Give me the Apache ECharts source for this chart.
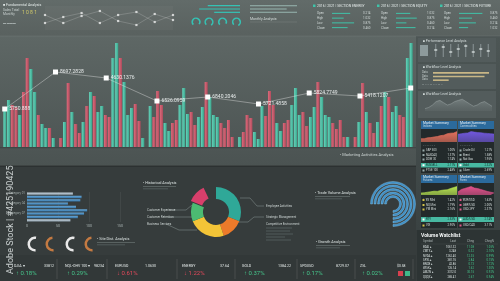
<!DOCTYPE html>
<html><head><meta charset="utf-8">
<script src="https://cdn.jsdelivr.net/npm/echarts/dist/echarts.min.js"></script>
<style>html,body{margin:0;padding:0;background:#363c3c;}#c{width:500px;height:281px;}</style>
</head><body><div id="c"></div>
<script>
// ---------- DATA ----------
const barValues=[40,47,42,40,32,55,89,78,55,32, 23,19,19,9,0,9,25,64,35,23, 14,25,41,55,51,35,41,32,30,89,
 104,89,65,32,39,43,26,9,0,41, 30,56,42,24,16,24,27,42,59,33, 35,22,30,40,65,50,32,30,24,19,
 27,10,0,10,15,32,29,15,8,41, 31,56,42,24,16,24,27,42,59,32, 35,21,30,40,65,50,32,30,24,18,
 27,10,10,0,10,25,64,35,24,14, 25,41,55,50,35,41,32,30,89,104];
const barSides='TTRRTRRTTR'+'TTRTTRTRTR'+'RTRTRTTRRT'+'TRTTTRRTRT'+'RRRTTRRTTT'+'RRTTRTTTRR'+'RRTTRRRTTT'+'RRRTTRRTTT'+'RRTTRTTTRR'+'RRTTRTRTRR'+'TRTRTTRRTT';
const barCategories=barValues.map((v,i)=>'D'+(i+1));
const linePos=[0,1,2,3,4,5,6,7,8];
const lineValues=[38,75,69,46,50,43,54,51,59];
const lineLabels=['5750.888','8697.2828','4630.1376','6526.0959','6840.2046','5721.4858','5824.7749','5418.1207',''];

const hbarCategories=['Category 01','Category 02','Category 03','Category 04','Category 05','Category 06','Category 07','Category 08','Category 09'];
const hbarValues=[74,88,86,66,79,97,92,82,70];
const hbarTicks=[0,50,100,150];

const donutNames=['Employee Activities','Strategic Management','Business Services','Customer Retention','Customer Experience',''];
const donutValues=[31,14,24,12,12,7];
const donutColors=['#2fa898','#ec7a2a','#f3c437','#4cbb72','#d83f6b','rgba(0,0,0,0)'];

const halfGaugeValues=[54,50,55,50];
const headGaugeValues=[72,78,70,80];
const ringValues=[75,75,75,75,75];

const hdrLineA=[14,6,13,18,8,4,15,9];
const hdrLineB=[6,12,16,6,14,17,7,14];
const hdrProgress=[75,95,60];
const hdrRightLines=[100,78,100];
const tableA=[70,45,85,60], tableB=[55,80,40,75], tableC=[90,50,65,35];

const sliderValues=[7,10,5,8,11,5,8,6];
const tanBars=[100,92,28];
const mountain=[2,3,5,8,9,7,5,6,8,9,10,8,6,4,5,7,8,6,4];
const areaIndices=[3,3.5,3,4,3.8,4.5,4,5,4.6,5.5,5,6,5.8,6.5,6.2,7,7.5,7,8,8.5,8.2,9,9.5];
const areaCommod=[7,8,7.5,8.5,8,9,8.2,8.8,9.5,8.5,9,8,8.6,9.2,8.4,8.8,8,8.5,7.8,8.3,7.5,8,7.2];
const areaFutures=[2,2.5,2.2,3,2.8,3.5,3.2,3,3.8,4,3.6,4.2,4.5,4.2,5,5.5,5.2,6,6.5,6.8,7.5,8,8.5];
const areaForex=[3,4,5.5,5,6.5,6,7.5,7,8.5,7.8,7,7.5,6.5,6,5.5,5,4.5,4,3.5,3,2.8,2.5,2];

const tickerNames=['DJIA ▾','NQL-OHV 100 ▾','EURUSD','ENERGY','GOLD','SPDUSD','ZSL'];
const tickerValues=['33812','98234','1.0630','37.64','1384.22','8729.07',''];
const tickerPcts=['↑ 0.18%','↑ 0.29%','↓ 0.61%','↓ 1.22%','↑ 0.37%','↑ 0.17%','↑ 0.02%'];

const watchSymbols=['BDAI ▸','ZMTX ▸','NVDA ▸','SPXL ▸','BNCB ▸','WISK ▸','AMZN ▸','QQQX ▸'];
const watchLast=['1061.32','3.248','1262.40','381.76','42.86','126.14','3312.0','285.41'];
const watchChg=['11.08','0.32','12.35','2.84','0.73','1.62','30.15','2.67'];
const watchPct=['1.05%','2.10%','0.99%','0.75%','1.72%','1.30%','0.92%','0.94%'];

const msTitles=['Indices','Commodities','Futures','Forex'];
const msNames=[['S&P 500','NASDAQ','DOW 30','RUSSELL','FTSE 100'],['Crude Oil','Brent','Nat Gas','Gold','Silver'],
 ['ES Mini','NQ Mini','YM Mini','RTY','VIX'],['EUR/USD','GBP/USD','USD/JPY','AUD/USD','USD/CAD']];

// ---------- HELPERS ----------
const FF='Roboto, "Liberation Sans", sans-serif';
const els=[];
function rect(x,y,w,h,fill,z){els.push({type:'rect',shape:{x,y,width:w,height:h},style:{fill},z:z==null?-10:z,silent:true});}
function txt(x,y,s,size,color,align,extra){els.push(Object.assign({type:'text',x,y,z:50,silent:true,style:{text:s,fontSize:size,fontFamily:FF,fill:color,textAlign:align||'left',textVerticalAlign:'middle'}},extra||{}));}
function ln(x1,y1,x2,y2,color,w,z){els.push({type:'line',shape:{x1,y1,x2,y2},style:{stroke:color,lineWidth:w||0.5},z:z==null?-5:z,silent:true});}
function poly(points,color,w){els.push({type:'polyline',shape:{points},style:{stroke:color,lineWidth:w||0.5,fill:null},z:-5,silent:true});}
const G=(a,b,h)=>new echarts.graphic.LinearGradient(0,0,h?1:0,h?0:1,[{offset:0,color:a},{offset:1,color:b}]);

// ---------- BACKGROUND ----------
els.push({type:'rect',shape:{x:0,y:0,width:500,height:281},style:{fill:'#363c3c'},z:-20,silent:true});
els.push({type:'rect',shape:{x:0,y:0,width:500,height:36},style:{fill:G('#626b69','#59615f')},z:-19,silent:true});
els.push({type:'rect',shape:{x:0,y:36,width:416,height:130},style:{fill:G('#5e6765','#4b5352')},z:-19,silent:true});
rect(0,147,416,1.2,'#3f4746',-18);
els.push({type:'rect',shape:{x:416,y:36,width:84,height:194},style:{fill:G('#4d5655','#3a4242')},z:-19,silent:true});
ln(0,36,500,36,'rgba(255,255,255,0.12)',0.6,-18);
ln(0,166,416,166,'rgba(0,0,0,0.35)',1.2,-18);
// right panel widgets
rect(418,38,78,24,'#535c5c',-15); rect(418,64,78,25,'#535c5c',-15); rect(418,91,78,27,'#535c5c',-15);
rect(421,121,36,8,'#2b6a9c',-14); rect(458,121,36,8,'#2b6a9c',-14);
rect(421,129,36,44,'#232a2b',-14); rect(458,129,36,44,'#232a2b',-14);
rect(421,175,36,8,'#2b6a9c',-14); rect(458,175,36,8,'#2b6a9c',-14);
rect(421,183,36,45,'#232a2b',-14); rect(458,183,36,45,'#232a2b',-14);
rect(421,163,36,4.6,'#47b8a1',-13); rect(458,163,36,4.6,'#47b8a1',-13);
rect(421,217,36,5,'#47b8a1',-13); rect(458,217,36,5,'#47b8a1',-13);
rect(417,230,83,51,'#2d3434',-15);
rect(0,255,416,26,'#323838',-16);

// ---------- TEXTS ----------
txt(3,5,'■ Fundamental Analysis',3.6,'#e4ebea');
txt(3,10,'Sales Total',3.3,'#c8d0cf'); txt(3,14,'Monthly',3.3,'#c8d0cf');
txt(22,12.5,'1 0 8 1',5,'#cfc86a');
txt(3,23,'▬ ▬▬▬',3,'#a9b3b2');
rect(45,6,128,24,'rgba(255,255,255,0.03)',-12);
txt(250,19,'Monthly Analysis',3.5,'#d4dcdb');
ln(250,22,297,22,'rgba(255,255,255,0.25)',0.4);
const tblX=[313,377,440], tblT=['2016 | 2021 | SECTION ENERGY','2016 | 2021 | SECTION EQUITY','2016 | 2021 | SECTION FUTURE'];
tblX.forEach((x,k)=>{rect(x,4.5,2.5,2.5,'#3fc3a9',5);txt(x+4,6,tblT[k],3.4,'#e4ebea');
 [13,18,23,28].forEach((y,j)=>{txt(x+4,y,['Open','High','Low','Close'][j],3,'#cfd7d6');txt(x+50,y,['0.214','1.032','0.875','0.460'][(j+k)%4],3,'#cfd7d6');});});
txt(340,155,'• Marketing Activities Analysis',4,'#cdd5d4');
txt(423,41,'■ Performance Level Analysis',3.3,'#d7dfde'); rect(420,45,8,11,'#8d9a9b',-12);
txt(423,67.5,'■ Workflow Level Analysis',3.3,'#d7dfde');
['Data','Data','Data'].forEach((s,j)=>txt(422,72.5+j*3.6,s,2.8,'#bfc8c7'));
txt(422,85,'— — — — — — — —',2.6,'#9aa4a3');
txt(423,94.5,'■ Workflow Level Analysis',3.3,'#d7dfde');
const msX=[421,458,421,458], msY=[121,121,175,175];
const msRowY=[[150.5,155,159.5,165.2,170.5],[150.5,155,159.5,165.2,170.5],[200,205,209.5,219.5,225.5],[200,205,209.5,219.5,225.5]];
const icon=['#9aa','#9aa','#d5c24a','#e05a8a'];
msX.forEach((x,k)=>{txt(x+2,msY[k]+2.5,'Market Summary',3.4,'#eef4f8');txt(x+2,msY[k]+5.8,msTitles[k],2.8,'#c3d6e4');
 txt(x+2,k<2?145.5:198,'▪  ▪  ▪  ▪  ▪  ▪  ▪',2.2,'#8f9a99');
 msRowY[k].forEach((y,j)=>{rect(x+1.5,y-1,2,2,j===3?'#fff':icon[k],20);txt(x+5,y,msNames[k][j],2.8,j===3?'#0f2a26':'#d6dedd');
  txt(x+34,y,(1+j*0.37+k*0.21).toFixed(2)+'%',2.8,j===3?'#0f2a26':'#d6dedd','right');});});
els.push({type:'text',x:421,y:236,z:50,silent:true,style:{text:'Volume Watchlist',fontSize:5,fontWeight:'bold',fontFamily:FF,fill:'#f2f5f5',textVerticalAlign:'middle'}});
['Symbol','Last','Chng','Chng%'].forEach((s,j)=>txt([423,456,474,494][j],241.5,s,3,'#aeb8b7',j?'right':'left'));
ln(421,244,498,244,'rgba(255,255,255,0.15)',0.4);
watchSymbols.forEach((s,i)=>{const y=247.5+i*4.2;txt(423,y,s,2.8,'#d8e0df');txt(456,y,watchLast[i],2.8,'#d8e0df','right');
 txt(474,y,watchChg[i],2.8,'#45c48a','right');txt(494,y,watchPct[i],2.8,'#45c48a','right');});
txt(143,183,'• Historical Analysis',3.8,'#d9e1e0');
ln(143,186.5,176,186.5,'#7d8887',0.5); ln(143,188.8,168,188.8,'#6e7978',0.5);
txt(315,193,'• Trade Volume Analysis',3.8,'#d9e1e0');
ln(315,196.5,350,196.5,'#7d8887',0.5); ln(315,198.8,342,198.8,'#6e7978',0.5);
txt(316,242,'• Growth Analysis',3.8,'#d9e1e0');
ln(316,245.5,350,245.5,'#7d8887',0.5); ln(316,247.8,340,247.8,'#6e7978',0.5);
txt(97,239,'• Site Dist. Analysis',3.8,'#d9e1e0');
ln(97,242.5,135,242.5,'#7d8887',0.5); ln(97,244.8,125,244.8,'#6e7978',0.5);
txt(147,210,'Customer Experience',3,'#c9d1d0'); txt(147,217,'Customer Retention',3,'#c9d1d0'); txt(147,224,'Business Services',3,'#c9d1d0');
poly([[169,210],[186,210],[192,205]],'#8b9695',0.5); poly([[168,217],[193,217]],'#8b9695',0.5); poly([[166,224],[179,230],[197,230]],'#8b9695',0.5);
txt(266,206,'Employee Activities',3,'#c9d1d0'); txt(266,217,'Strategic Management',3,'#c9d1d0'); txt(266,224,'Competitive Environment',3,'#c9d1d0');
poly([[240,198],[250,198],[257,206],[264,206]],'#8b9695',0.5); poly([[238,222],[248,222],[254,217],[264,217]],'#8b9695',0.5);
[228,231,234,237,240].forEach((y,j)=>ln(266,y,[292,290,293,285,291][j],y,'#6e7978',0.5));
const tkX=[14,65,115,182,242,300,360], tkVX=[54,104,156,229,291,349,0];
tickerNames.forEach((s,i)=>{txt(tkX[i],266,s,3.6,'#e3e9e8');if(tickerValues[i])txt(tkVX[i],266,tickerValues[i],3.6,'#e3e9e8','right');
 txt(tkX[i]+2,273.5,tickerPcts[i],6,tickerPcts[i][0]==='↑'?'#45c48a':'#e2495b');});
[57,107,177,235,297,355,413].forEach(x=>ln(x,259,x,279,'rgba(255,255,255,0.22)',0.5));
txt(397,266,'$0.58',3.4,'#e3e9e8'); rect(398,271,5,5,'#d8404f',5); rect(405,271,5,5,'#3fb98a',5);
els.push({type:'text',x:11,y:274,rotation:Math.PI/2,z:60,silent:true,style:{text:'Adobe Stock | #425190425',fontSize:9,fontFamily:FF,fill:'rgba(225,230,230,0.85)',textAlign:'left',textVerticalAlign:'middle'}});

// ---------- SERIES ----------
const grids=[], xAxes=[], yAxes=[], series=[];
function addGrid(g,xa,ya){grids.push(g);const gi=grids.length-1;xa.gridIndex=gi;ya.gridIndex=gi;xAxes.push(xa);yAxes.push(ya);return [xAxes.length-1,yAxes.length-1];}
const hid={show:false};
let [mx,my]=addGrid({left:3,width:410,top:37,height:110},{type:'category',data:barCategories,show:false,boundaryGap:true},{type:'value',min:0,max:110,show:false});
xAxes.push({type:'value',gridIndex:0,min:-0.034,max:8.045,show:false}); const mx2=xAxes.length-1;
const teal=G('#66d4bb','#3aa58c',true), red=G('#db6a7b','#b24c5d',true);
series.push({type:'bar',xAxisIndex:mx,yAxisIndex:my,barCategoryGap:'18%',data:barValues.map((v,i)=>({value:v,itemStyle:{color:barSides[i]==='T'?teal:red}}))});
series.push({type:'line',xAxisIndex:mx2,yAxisIndex:my,data:linePos.map((x,i)=>[x,lineValues[i]]),symbol:'rect',symbolSize:5,
 lineStyle:{color:'rgba(240,240,240,0.55)',width:0.7},itemStyle:{color:'#ffffff'},z:5,
 label:{show:true,position:'right',distance:2,fontSize:5,fontFamily:FF,color:'#e8ecec',formatter:p=>lineLabels[p.dataIndex]}});
let [hx,hy]=addGrid({left:27,width:93,top:192,height:30},{type:'value',min:0,max:150,interval:50,axisLine:hid,axisTick:hid,splitLine:{show:true,lineStyle:{color:'rgba(255,255,255,0.12)',width:0.5}},axisLabel:{fontSize:3.6,color:'#aab4b3',margin:2,fontFamily:FF}},
 {type:'category',data:hbarCategories,inverse:true,axisLine:hid,axisTick:hid,axisLabel:{fontSize:3,color:'#9ea8a7',margin:2,fontFamily:FF}});
series.push({type:'bar',xAxisIndex:hx,yAxisIndex:hy,barWidth:2.4,data:hbarValues.map((v,i)=>({value:v,itemStyle:{color:(i===0||i===8)?G('#c4d0d8','#93a5b2'):G('#6aa9d8','#3474a6')}}))});
let [lx,ly]=addGrid({left:45,width:128,top:7,height:22},{type:'category',data:hdrLineA.map((v,i)=>i),boundaryGap:false,show:false},{type:'value',min:0,max:22,show:false});
[hdrLineA,hdrLineB].forEach((d,k)=>series.push({type:'line',xAxisIndex:lx,yAxisIndex:ly,data:d,symbol:'rect',symbolSize:2.2,showAllSymbol:true,
 lineStyle:{color:'rgba(255,255,255,0.35)',width:0.5},itemStyle:{color:'rgba(255,255,255,0.7)'}}));
let [px,py]=addGrid({left:197,width:43,top:4,height:10},{type:'value',max:100,inverse:true,show:false},{type:'category',data:['a','b','c'],inverse:true,show:false});
series.push({type:'bar',xAxisIndex:px,yAxisIndex:py,barWidth:1.2,data:hdrProgress,itemStyle:{color:'#35c2b4'}});
let [rx,ry]=addGrid({left:250,width:47,top:4,height:10},{type:'value',max:100,show:false},{type:'category',data:['a','b','c'],inverse:true,show:false});
series.push({type:'bar',xAxisIndex:rx,yAxisIndex:ry,barWidth:1,data:hdrRightLines,itemStyle:{color:'rgba(190,235,225,0.6)'}});
[tableA,tableB,tableC].forEach((d,k)=>{let [tx,ty]=addGrid({left:tblX[k]+19,width:26,top:11,height:19},{type:'value',max:100,show:false},{type:'category',data:['a','b','c','d'],inverse:true,show:false});
 series.push({type:'bar',xAxisIndex:tx,yAxisIndex:ty,barWidth:1,data:d,itemStyle:{color:'#3fc3a9'}});});
let [sx,sy]=addGrid({left:432,width:60,top:44,height:13},{type:'category',data:sliderValues.map((v,i)=>i),show:false},{type:'value',min:0,max:13,show:false});
series.push({type:'bar',xAxisIndex:sx,yAxisIndex:sy,barWidth:0.6,data:sliderValues.map(()=>13),itemStyle:{color:'#8a9596'}});
series.push({type:'scatter',xAxisIndex:sx,yAxisIndex:sy,symbol:'rect',symbolSize:[3,1.6],data:sliderValues,itemStyle:{color:'#dfe6e5'}});
let [bx,by]=addGrid({left:433,width:56,top:71,height:11},{type:'value',max:100,show:false},{type:'category',data:['a','b','c'],inverse:true,show:false});
series.push({type:'bar',xAxisIndex:bx,yAxisIndex:by,barWidth:1.6,data:tanBars,itemStyle:{color:'#c8b686'}});
let [mtx,mty]=addGrid({left:425,width:67,top:98,height:13},{type:'category',data:mountain.map((v,i)=>i),boundaryGap:false,show:false},{type:'value',min:0,max:11,show:false});
series.push({type:'line',xAxisIndex:mtx,yAxisIndex:mty,data:mountain,symbol:'none',lineStyle:{color:'#9aa5a5',width:0.5},areaStyle:{color:G('rgba(170,180,180,0.55)','rgba(120,130,130,0.25)')}});
const areaSets=[[areaIndices,'#e4715c',421,131,11],[areaCommod,'#7158dc',458,131,11],[areaFutures,'#b6e24f',421,185,10],[areaForex,'#e2528c',458,185,10]];
areaSets.forEach(([d,c,l,t,h])=>{let [ax,ay]=addGrid({left:l,width:36,top:t,height:h},{type:'category',data:d.map((v,i)=>i),boundaryGap:false,show:false},{type:'value',min:0,max:10,show:false});
 series.push({type:'line',xAxisIndex:ax,yAxisIndex:ay,data:d,symbol:'none',lineStyle:{color:c,width:0.6},areaStyle:{color:G(c,c+'aa'),opacity:1}});});
series.push({type:'pie',center:[216,212],radius:[13,25],startAngle:90,selectedMode:'single',selectedOffset:2.5,label:{show:false},labelLine:{show:false},
 data:donutValues.map((v,i)=>({name:donutNames[i]||'gap',value:v,selected:i===4,itemStyle:{color:donutColors[i]}}))});
const hgCenters=[[35,244],[53,244],[73,244],[92,244]], hgColors=['#e9e9e9','#c47a42','#e9e9e9','#c47a42'];
halfGaugeValues.forEach((v,i)=>series.push({type:'pie',center:hgCenters[i],radius:[5,7.5],startAngle:275,label:{show:false},labelLine:{show:false},
 data:[{value:v,itemStyle:{color:hgColors[i]}},{value:100-v,itemStyle:{color:'rgba(0,0,0,0)'}}]}));
const hcX=[196,209,222.5,236.5];
headGaugeValues.forEach((v,i)=>series.push({type:'pie',center:[hcX[i],22],radius:[3,4.6],startAngle:225,label:{show:false},labelLine:{show:false},
 data:[{value:v,itemStyle:{color:'#35c2b4'}},{value:100-v,itemStyle:{color:'rgba(0,0,0,0)'}}]}));
const ringR=[[20.5,22.5],[17,19],[13.5,15.5],[10,12],[6.5,8.5]];
ringValues.forEach((v,i)=>series.push({type:'pie',center:[393,204],radius:ringR[i],startAngle:180,label:{show:false},labelLine:{show:false},
 data:[{value:v,itemStyle:{color:'#3f8fc6',borderColor:'#8ccaf0',borderWidth:0.4}},{value:100-v,itemStyle:{color:'rgba(0,0,0,0)'}}]}));

series.forEach(s=>{s.silent=true;s.animation=false;});
const chart=echarts.init(document.getElementById('c'),null,{renderer:'canvas'});
chart.setOption({animation:false,grid:grids,xAxis:xAxes,yAxis:yAxes,series,graphic:{elements:els}});
</script></body></html>
